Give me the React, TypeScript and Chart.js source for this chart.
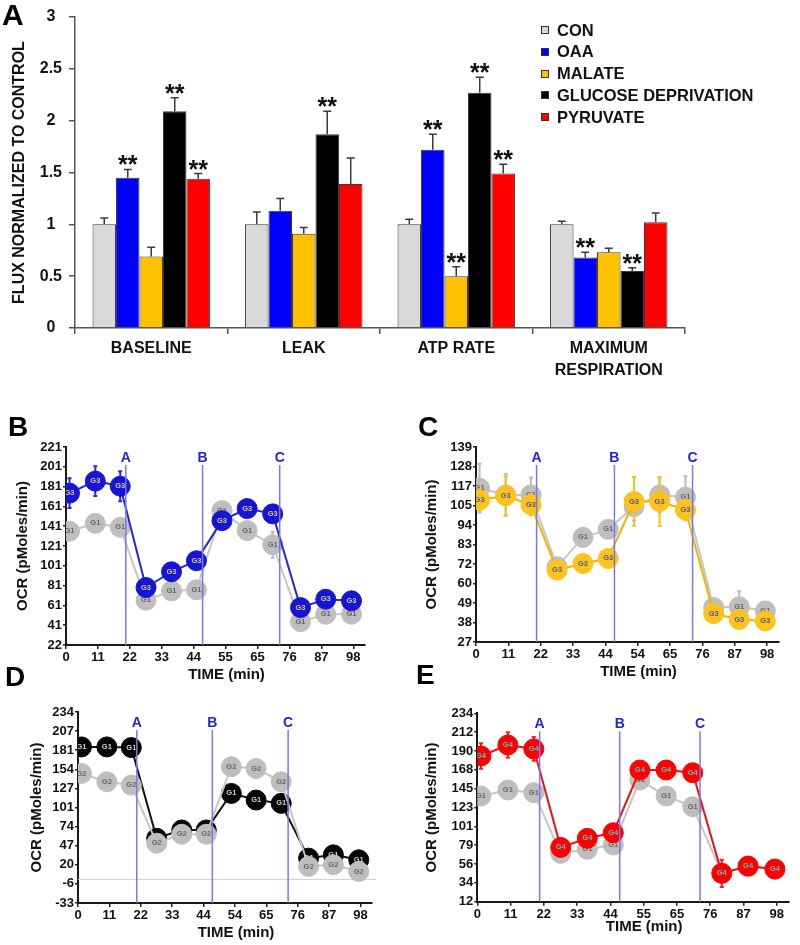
import React, { useEffect, useRef } from "react";
import { Chart, registerables } from "chart.js";

Chart.register(...registerables);

const FONT = "'Liberation Sans', Arial, Helvetica, sans-serif";
Chart.defaults.font.family = FONT;
Chart.defaults.color = "#111";

// ---------------- Panel A data ----------------
const A_CATEGORIES: (string | string[])[] = ["BASELINE", "LEAK", "ATP RATE", ["MAXIMUM", "RESPIRATION"]];
const A_SERIES_NAMES = ["CON", "OAA", "MALATE", "GLUCOSE DEPRIVATION", "PYRUVATE"];

const CON_VALUES = [1.0, 1.0, 1.0, 1.0];
const CON_ERRORS = [0.06, 0.12, 0.05, 0.03];
const CON_SIG = [false, false, false, false];

const OAA_VALUES = [1.45, 1.13, 1.72, 0.68];
const OAA_ERRORS = [0.08, 0.12, 0.15, 0.05];
const OAA_SIG = [true, false, true, true];

const MALATE_VALUES = [0.69, 0.91, 0.5, 0.73];
const MALATE_ERRORS = [0.09, 0.06, 0.09, 0.04];
const MALATE_SIG = [false, false, true, false];

const GLUCOSE_VALUES = [2.09, 1.87, 2.27, 0.55];
const GLUCOSE_ERRORS = [0.13, 0.22, 0.15, 0.03];
const GLUCOSE_SIG = [true, true, true, true];

const PYRUVATE_VALUES = [1.44, 1.39, 1.49, 1.02];
const PYRUVATE_ERRORS = [0.05, 0.25, 0.09, 0.09];
const PYRUVATE_SIG = [true, false, true, false];

// ---------------- Panels B–E data ----------------
const TIMES = [1.2, 10, 18.5, 27.3, 36, 44.5, 53.2, 61.8, 70.5, 80, 88.6, 97.4];
const INJECTION_TIMES = [20.4, 46.6, 72.9];
const INJECTION_LABELS = ["A", "B", "C"];
const X_AXIS_MAX = 102;

const X_LABELS_B = ["0", "11", "22", "33", "44", "55", "65", "76", "87", "98"];
const X_LABELS_C = ["0", "11", "22", "33", "44", "54", "65", "76", "87", "98"];
const X_LABELS_D = ["0", "11", "22", "33", "44", "54", "65", "76", "87", "98"];
const X_LABELS_E = ["0", "11", "22", "33", "44", "55", "65", "76", "87", "98"];

const Y_LABELS_B = ["22", "41", "61", "81", "101", "121", "141", "161", "181", "201", "221"];
const Y_LABELS_C = ["27", "38", "49", "60", "72", "83", "94", "105", "117", "128", "139"];
const Y_LABELS_D = ["-33", "-6", "20", "47", "74", "101", "127", "154", "181", "207", "234"];
const Y_LABELS_E = ["12", "34", "56", "79", "101", "123", "145", "168", "190", "212", "234"];

const B_G3_VALUES = [174.6, 186.7, 181.6, 79.8, 95.6, 106.7, 147, 159.1, 153.8, 59.6, 68, 66.4];
const B_G3_ERRORS = [15, 15, 15, 6, 6, 6, 8, 7, 7, 5, 5, 5];
const B_G1_VALUES = [136.3, 144.3, 140.3, 67, 76.4, 77.5, 157.1, 137, 122.8, 45.5, 52.9, 52.9];
const B_G1_ERRORS = [6, 5, 5, 4, 4, 4, 6, 6, 13, 5, 5, 5];

const C_G3_VALUES = [108.6, 111, 105.8, 68.3, 72.1, 75, 107.7, 107.7, 102.9, 43.3, 39.9, 39.1];
const C_G3_ERRORS = [6, 11, 6, 4, 4, 4, 14, 14, 6, 3, 3, 3];
const C_G1_VALUES = [115.4, 111.5, 111.5, 70.2, 87.1, 91.7, 104.8, 111.5, 110.2, 46.8, 47.2, 44.9];
const C_G1_ERRORS = [14, 12, 10, 4, 5, 5, 8, 10, 12, 5, 9, 5];

const D_G1_VALUES = [185.2, 185.2, 184.3, 57.5, 69.1, 69.1, 120.2, 110.9, 106.3, 29.7, 34.3, 27.4];
const D_G1_ERRORS = [3, 3, 3, 3, 3, 3, 3, 3, 3, 3, 3, 3];
const D_G2_VALUES = [148.1, 136.5, 131.8, 50.6, 63.1, 63.1, 157.4, 155, 136.5, 18.1, 20.4, 11.1];
const D_G2_ERRORS = [3, 3, 3, 3, 3, 3, 3, 3, 3, 3, 3, 3];

const E_G4_VALUES = [183.7, 196.7, 192, 76, 86.7, 93.3, 167.2, 167.2, 164, 45.4, 54, 50.5];
const E_G4_ERRORS = [15, 15, 14, 5, 5, 5, 8, 10, 9, 16, 10, 10];
const E_G1_VALUES = [136.5, 143.6, 140.5, 69, 73.7, 78.8, 155.4, 136.5, 124, 46, 53, 50];
const E_G1_ERRORS = [5, 5, 5, 4, 4, 4, 5, 5, 5, 4, 4, 4];

// ---------------- Plugins ----------------
const barErrorPlugin = {
  id: "barErrors",
  afterDatasetsDraw(chart: any) {
    const ctx = chart.ctx;
    const ys = chart.scales.y;
    chart.data.datasets.forEach((ds: any, i: number) => {
      const meta = chart.getDatasetMeta(i);
      meta.data.forEach((bar: any, j: number) => {
        const v = ds.data[j];
        const top = ys.getPixelForValue(v + ds.errors[j]);
        ctx.save();
        ctx.strokeStyle = "#3a3a3a";
        ctx.lineWidth = 1.5;
        ctx.beginPath();
        ctx.moveTo(bar.x, bar.y);
        ctx.lineTo(bar.x, top);
        ctx.moveTo(bar.x - 4, top);
        ctx.lineTo(bar.x + 4, top);
        ctx.stroke();
        if (ds.sig[j]) {
          ctx.font = `bold 25px ${FONT}`;
          ctx.fillStyle = "#111";
          ctx.textAlign = "center";
          ctx.textBaseline = "alphabetic";
          const m = ctx.measureText("**");
          const asc = m.actualBoundingBoxAscent;
          const desc = m.actualBoundingBoxDescent;
          const center = top - 9;
          const base = center - (desc - asc) / 2;
          ctx.fillText("**", bar.x, base);
        }
        ctx.restore();
      });
    });
  },
};

const seahorsePlugin = {
  id: "seahorse",
  beforeDatasetsDraw(chart: any, _a: any, opts: any) {
    if (!opts.zeroLine) return;
    const ctx = chart.ctx;
    const ca = chart.chartArea;
    const y = chart.scales.y.getPixelForValue(0);
    ctx.save();
    ctx.strokeStyle = "#cfcfcf";
    ctx.lineWidth = 1;
    ctx.beginPath();
    ctx.moveTo(ca.left, y);
    ctx.lineTo(ca.right + 4, y);
    ctx.stroke();
    ctx.restore();
  },
  beforeDatasetDraw(chart: any, args: any) {
    const ds = chart.data.datasets[args.index];
    const ctx = chart.ctx;
    const ca = chart.chartArea;
    const ys = chart.scales.y;
    ctx.save();
    ctx.beginPath();
    ctx.rect(ca.left, ca.top, ca.right - ca.left, ca.bottom - ca.top);
    ctx.clip();
    ctx.strokeStyle = ds.errColor;
    ctx.lineWidth = 2;
    args.meta.data.forEach((pt: any, j: number) => {
      const v = ds.data[j].y;
      const e = ds.errors[j];
      const y1 = ys.getPixelForValue(v + e);
      const y2 = ys.getPixelForValue(v - e);
      ctx.beginPath();
      ctx.moveTo(pt.x, y1);
      ctx.lineTo(pt.x, y2);
      ctx.moveTo(pt.x - 2, y1);
      ctx.lineTo(pt.x + 2, y1);
      ctx.moveTo(pt.x - 2, y2);
      ctx.lineTo(pt.x + 2, y2);
      ctx.stroke();
    });
    ctx.restore();
  },
  afterDatasetDraw(chart: any, args: any) {
    const ds = chart.data.datasets[args.index];
    const ctx = chart.ctx;
    const ca = chart.chartArea;
    ctx.save();
    ctx.beginPath();
    ctx.rect(ca.left, ca.top, ca.right - ca.left, ca.bottom - ca.top);
    ctx.clip();
    ctx.font = `bold 7.5px ${FONT}`;
    ctx.fillStyle = ds.markerTextColor;
    ctx.textAlign = "center";
    ctx.textBaseline = "middle";
    args.meta.data.forEach((pt: any) => {
      ctx.fillText(ds.markerText, pt.x, pt.y);
    });
    ctx.restore();
  },
  afterDatasetsDraw(chart: any, _a: any, opts: any) {
    const ctx = chart.ctx;
    const ca = chart.chartArea;
    const xs = chart.scales.x;
    ctx.save();
    INJECTION_TIMES.forEach((t, i) => {
      const x = xs.getPixelForValue(t);
      ctx.strokeStyle = "#7878f2";
      ctx.lineWidth = 1.5;
      ctx.beginPath();
      ctx.moveTo(x, ca.top + 18);
      ctx.lineTo(x, ca.bottom);
      ctx.stroke();
      ctx.font = `bold 14px ${FONT}`;
      ctx.fillStyle = "#2323dc";
      ctx.textAlign = "center";
      ctx.textBaseline = "middle";
      ctx.fillText(INJECTION_LABELS[i], x, ca.top + 11);
    });
    ctx.font = `bold 15px ${FONT}`;
    ctx.fillStyle = "#111";
    ctx.textAlign = "center";
    ctx.textBaseline = "middle";
    ctx.fillText(opts.xTitle, (ca.left + ca.right) / 2 + opts.xTitleDx, ca.bottom + opts.xTitleDy);
    ctx.restore();
  },
};

// ---------------- Config factories ----------------
function makeBarConfig() {
  const series = [
    { name: A_SERIES_NAMES[0], values: CON_VALUES, errors: CON_ERRORS, sig: CON_SIG, color: "#d9d9d9" },
    { name: A_SERIES_NAMES[1], values: OAA_VALUES, errors: OAA_ERRORS, sig: OAA_SIG, color: "#0000ff" },
    { name: A_SERIES_NAMES[2], values: MALATE_VALUES, errors: MALATE_ERRORS, sig: MALATE_SIG, color: "#ffc000" },
    { name: A_SERIES_NAMES[3], values: GLUCOSE_VALUES, errors: GLUCOSE_ERRORS, sig: GLUCOSE_SIG, color: "#000000" },
    { name: A_SERIES_NAMES[4], values: PYRUVATE_VALUES, errors: PYRUVATE_ERRORS, sig: PYRUVATE_SIG, color: "#ff0000" },
  ];
  return {
    type: "bar",
    data: {
      labels: A_CATEGORIES,
      datasets: series.map((s) => ({
        label: s.name,
        data: s.values,
        errors: s.errors,
        sig: s.sig,
        backgroundColor: s.color,
        borderColor: "#3a3a3a",
        borderWidth: 1,
        barPercentage: 1,
        categoryPercentage: 0.77,
      })),
    },
    options: {
      responsive: false,
      animation: false,
      events: [],
      layout: { padding: { left: 0, top: 17, right: 115, bottom: 0 } },
      plugins: { legend: { display: false }, tooltip: { enabled: false } },
      scales: {
        x: {
          grid: { drawOnChartArea: false, drawTicks: true, tickLength: 6, color: "#555", lineWidth: 1.5, offset: true },
          border: { color: "#555", width: 1.5 },
          ticks: {
            font: { size: 16, weight: "bold", family: FONT, lineHeight: 1.375 },
            color: "#111",
            padding: 4,
            maxRotation: 0,
            autoSkip: false,
          },
          afterFit: (s: any) => {
            s.height = 62;
          },
        },
        y: {
          min: 0,
          max: 3,
          ticks: {
            stepSize: 0.5,
            callback: (v: any) => String(Number(v)),
            font: { size: 16, weight: "bold", family: FONT },
            color: "#111",
            crossAlign: "center",
            padding: 7,
          },
          grid: { drawOnChartArea: false, drawTicks: true, tickLength: 6, color: "#555", lineWidth: 1.5 },
          border: { color: "#555", width: 1.5 },
          title: {
            display: true,
            text: "FLUX NORMALIZED TO CONTROL",
            font: { size: 16, weight: "bold", family: FONT },
            color: "#111",
            padding: { top: 10, bottom: 0 },
          },
          afterFit: (s: any) => {
            s.width = 75;
          },
        },
      },
    },
    plugins: [barErrorPlugin],
  };
}

interface SeriesSpec {
  values: number[];
  errors: number[];
  text: string;
  fill: string;
  line: string;
  textColor: string;
  errColor: string;
  order: number;
}

interface LinePanel {
  xLabels: string[];
  yLabels: string[];
  series: SeriesSpec[];
  padTop: number;
  padRight: number;
  yWidth: number;
  yTitlePad: number;
  xHeight: number;
  xTitleDy: number;
  zeroLine: boolean;
}

function makeLineConfig(p: LinePanel) {
  const yMin = Number(p.yLabels[0]);
  const yMax = Number(p.yLabels[p.yLabels.length - 1]);
  const xLast = Number(p.xLabels[p.xLabels.length - 1]);
  const tickFont = { size: 13, weight: "bold", family: FONT };
  return {
    type: "line",
    data: {
      datasets: p.series.map((s) => ({
        data: TIMES.map((t, i) => ({ x: t, y: s.values[i] })),
        errors: s.errors,
        markerText: s.text,
        markerTextColor: s.textColor,
        errColor: s.errColor,
        order: s.order,
        borderColor: s.line,
        borderWidth: 2,
        pointRadius: 10,
        pointHoverRadius: 10,
        pointBackgroundColor: s.fill,
        pointBorderColor: s.fill,
        pointBorderWidth: 1,
        tension: 0,
        clip: 0,
      })),
    },
    options: {
      responsive: false,
      animation: false,
      events: [],
      layout: { padding: { left: 0, top: p.padTop, right: p.padRight, bottom: 0 } },
      plugins: {
        legend: { display: false },
        tooltip: { enabled: false },
        seahorse: { zeroLine: p.zeroLine, xTitle: "TIME (min)", xTitleDx: 11, xTitleDy: p.xTitleDy },
      },
      scales: {
        x: {
          type: "linear",
          min: 0,
          max: X_AXIS_MAX,
          afterBuildTicks: (s: any) => {
            s.ticks = p.xLabels.map((_, i) => ({ value: (i * xLast) / (p.xLabels.length - 1) }));
          },
          ticks: {
            callback: (_v: any, i: number) => p.xLabels[i],
            autoSkip: false,
            maxRotation: 0,
            font: tickFont,
            color: "#111",
            padding: 1,
          },
          grid: { drawOnChartArea: false, drawTicks: true, tickLength: 4, color: "#222", lineWidth: 1.5 },
          border: { color: "#1a1a1a", width: 2 },
          afterFit: (s: any) => {
            s.height = p.xHeight;
          },
        },
        y: {
          type: "linear",
          min: yMin,
          max: yMax,
          afterBuildTicks: (s: any) => {
            s.ticks = p.yLabels.map((_, i) => ({ value: yMin + ((yMax - yMin) * i) / (p.yLabels.length - 1) }));
          },
          ticks: {
            callback: (_v: any, i: number) => p.yLabels[i],
            autoSkip: false,
            font: tickFont,
            color: "#111",
            padding: 1,
          },
          grid: { drawOnChartArea: false, drawTicks: true, tickLength: 3, color: "#222", lineWidth: 1.5 },
          border: { color: "#1a1a1a", width: 2 },
          title: {
            display: true,
            text: "OCR (pMoles/min)",
            font: { size: 15, weight: "bold", family: FONT },
            color: "#111",
            padding: { top: p.yTitlePad, bottom: 0 },
          },
          afterFit: (s: any) => {
            s.width = p.yWidth;
          },
        },
      },
    },
    plugins: [seahorsePlugin],
  };
}

const GRAY_FILL = "#bebebe";
const GRAY_LINE = "#c6c6c6";
const GRAY_TEXT = "#666666";

const PANEL_B: LinePanel = {
  xLabels: X_LABELS_B,
  yLabels: Y_LABELS_B,
  series: [
    { values: B_G3_VALUES, errors: B_G3_ERRORS, text: "G3", fill: "#1515d6", line: "#2626d2", textColor: "#d8ca86", errColor: "#2a2ad8", order: 0 },
    { values: B_G1_VALUES, errors: B_G1_ERRORS, text: "G1", fill: GRAY_FILL, line: GRAY_LINE, textColor: GRAY_TEXT, errColor: "#bdbdbd", order: 1 },
  ],
  padTop: 47,
  padRight: 35,
  yWidth: 66,
  yTitlePad: 14,
  xHeight: 45,
  xTitleDy: 30,
  zeroLine: false,
};

const PANEL_C: LinePanel = {
  xLabels: X_LABELS_C,
  yLabels: Y_LABELS_C,
  series: [
    { values: C_G3_VALUES, errors: C_G3_ERRORS, text: "G3", fill: "#ffc21a", line: "#f0b400", textColor: "#4d5c8c", errColor: "#f2c020", order: 0 },
    { values: C_G1_VALUES, errors: C_G1_ERRORS, text: "G1", fill: GRAY_FILL, line: GRAY_LINE, textColor: GRAY_TEXT, errColor: "#bdbdbd", order: 1 },
  ],
  padTop: 47,
  padRight: 21,
  yWidth: 76,
  yTitlePad: 22.7,
  xHeight: 48,
  xTitleDy: 30,
  zeroLine: false,
};

const PANEL_D: LinePanel = {
  xLabels: X_LABELS_D,
  yLabels: Y_LABELS_D,
  series: [
    { values: D_G1_VALUES, errors: D_G1_ERRORS, text: "G1", fill: "#050505", line: "#111111", textColor: "#d2d2d2", errColor: "#222222", order: 1 },
    { values: D_G2_VALUES, errors: D_G2_ERRORS, text: "G2", fill: GRAY_FILL, line: GRAY_LINE, textColor: GRAY_TEXT, errColor: "#bdbdbd", order: 0 },
  ],
  padTop: 52,
  padRight: 28,
  yWidth: 78,
  yTitlePad: 27.7,
  xHeight: 42,
  xTitleDy: 29.7,
  zeroLine: true,
};

const PANEL_E: LinePanel = {
  xLabels: X_LABELS_E,
  yLabels: Y_LABELS_E,
  series: [
    { values: E_G4_VALUES, errors: E_G4_ERRORS, text: "G4", fill: "#ff0000", line: "#ec1010", textColor: "#4cc6c6", errColor: "#ff1a1a", order: 0 },
    { values: E_G1_VALUES, errors: E_G1_ERRORS, text: "G1", fill: GRAY_FILL, line: GRAY_LINE, textColor: GRAY_TEXT, errColor: "#bdbdbd", order: 1 },
  ],
  padTop: 53.3,
  padRight: 7.5,
  yWidth: 77.3,
  yTitlePad: 22.7,
  xHeight: 43.3,
  xTitleDy: 25,
  zeroLine: false,
};

// ---------------- Components ----------------
function ChartCanvas(props: { left: number; top: number; width: number; height: number; makeConfig: () => any }) {
  const ref = useRef<HTMLCanvasElement | null>(null);
  useEffect(() => {
    if (!ref.current) return;
    const chart = new Chart(ref.current, props.makeConfig());
    return () => chart.destroy();
  }, []);
  return (
    <canvas
      ref={ref}
      width={props.width}
      height={props.height}
      style={{ position: "absolute", left: props.left, top: props.top, width: props.width, height: props.height }}
    />
  );
}

const LEGEND_COLORS = ["#d9d9d9", "#0000ff", "#ffc000", "#000000", "#ff0000"];

function PanelLetter(props: { text: string; left: number; top: number; size: number }) {
  return (
    <div
      style={{
        position: "absolute",
        left: props.left,
        top: props.top,
        fontFamily: FONT,
        fontWeight: "bold",
        fontSize: props.size,
        lineHeight: 1,
        color: "#000",
      }}
    >
      {props.text}
    </div>
  );
}

export default function App() {
  return (
    <div style={{ position: "absolute", left: 0, top: 0, width: 800, height: 945, background: "#fff", overflow: "hidden" }}>
      <ChartCanvas left={0} top={0} width={800} height={390} makeConfig={makeBarConfig} />
      <ChartCanvas left={0} top={400} width={400} height={290} makeConfig={() => makeLineConfig(PANEL_B)} />
      <ChartCanvas left={400} top={400} width={400} height={290} makeConfig={() => makeLineConfig(PANEL_C)} />
      <ChartCanvas left={0} top={660} width={400} height={285} makeConfig={() => makeLineConfig(PANEL_D)} />
      <ChartCanvas left={400} top={660} width={400} height={285} makeConfig={() => makeLineConfig(PANEL_E)} />

      {A_SERIES_NAMES.map((name, i) => (
        <div
          key={name}
          style={{
            position: "absolute",
            left: 541,
            top: 30 + i * 21.8 - 10,
            height: 20,
            display: "flex",
            alignItems: "center",
            fontFamily: FONT,
            fontWeight: "bold",
            fontSize: 16.5,
            color: "#111",
            whiteSpace: "nowrap",
          }}
        >
          <span
            style={{
              display: "inline-block",
              width: 6,
              height: 6,
              background: LEGEND_COLORS[i],
              border: "1px solid #333",
              marginRight: 8,
            }}
          />
          {name}
        </div>
      ))}

      <PanelLetter text="A" left={2} top={0} size={30} />
      <PanelLetter text="B" left={8} top={413} size={28} />
      <PanelLetter text="C" left={418} top={413} size={28} />
      <PanelLetter text="D" left={5} top={663} size={28} />
      <PanelLetter text="E" left={416} top={661} size={28} />
    </div>
  );
}
